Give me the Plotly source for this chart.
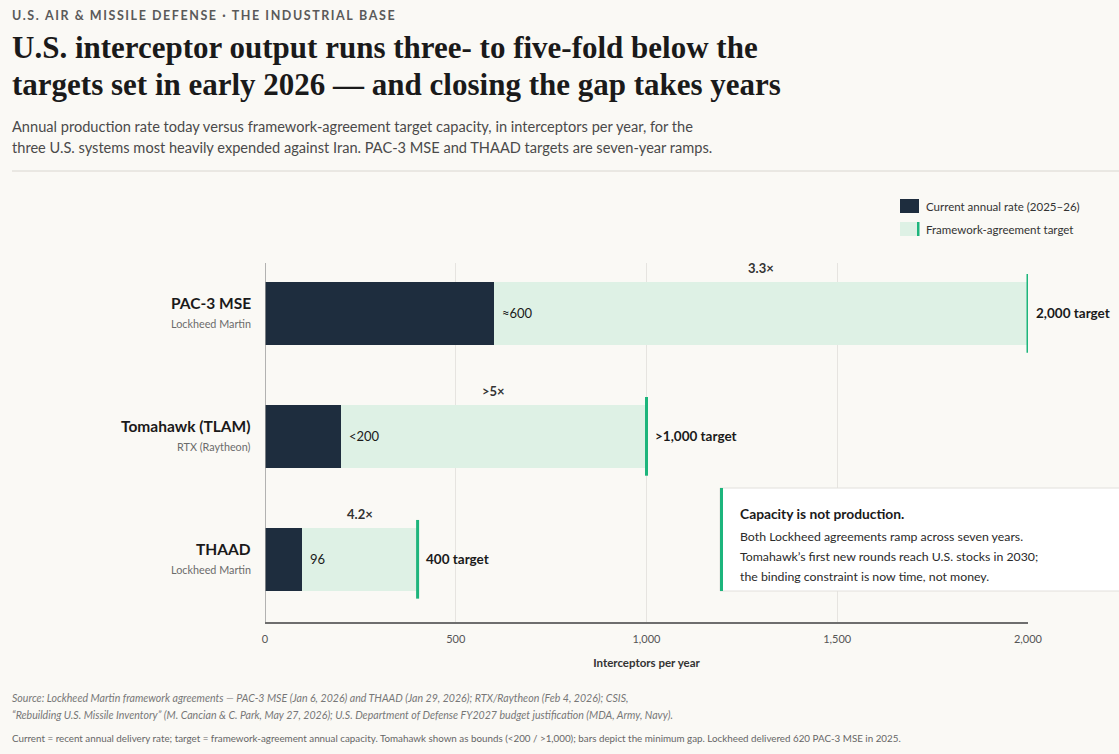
# interceptor output vs framework-agreement targets
import plotly.graph_objects as go

# data
systems = ["PAC-3 MSE", "Tomahawk (TLAM)", "THAAD"]
makers = ["Lockheed Martin", "RTX (Raytheon)", "Lockheed Martin"]
current_rate = [600, 200, 96]
target_rate = [2000, 1000, 400]
current_labels = ["≈600", "<200", "96"]
target_labels = ["2,000 target", ">1,000 target", "400 target"]
gap_labels = ["3.3×", ">5×", "4.2×"]
tick_vals = [0, 500, 1000, 1500, 2000]
tick_text = ["0", "500", "1,000", "1,500", "2,000"]

# colours / fonts
BG = "#faf9f5"
NAVY = "#1e2d3e"
MINT = "#def1e5"
GREEN = "#1db57c"
INK = "#1a1a1a"
GREY = "#6b6b6b"
SANS = "Lato, 'Open Sans', sans-serif"
SERIF = "'Liberation Serif', 'DejaVu Serif', serif"

W, H = 1119, 754
L, R, T, B = 265, 1028, 263, 622  # plot area in pixels


def px(x):
    return (x - L) / (R - L)


def py(y):
    return (B - y) / (B - T)


def text_at(x, y, text, size, color, family=SANS, anchor="left"):
    # annotations pad ~2px, so pull left-anchored text back a touch
    return dict(x=px(x - 2), y=py(y), xref="paper", yref="paper", text=text,
                xanchor=anchor, yanchor="middle", showarrow=False,
                font=dict(family=family, size=size, color=color))


ys = list(range(len(systems)))

fig = go.Figure()

# target capacity bars (full length, light)
fig.add_trace(go.Bar(
    y=ys, x=target_rate, orientation="h", width=0.515,
    marker=dict(color=MINT, line=dict(width=0)),
    hoverinfo="skip", showlegend=False,
))

# current annual rate bars
fig.add_trace(go.Bar(
    y=ys, x=current_rate, orientation="h", width=0.515,
    marker=dict(color=NAVY, line=dict(width=0)),
    hoverinfo="skip", showlegend=False,
))

# green target markers
lx, ly = [], []
for i, t in enumerate(target_rate):
    lx += [t, t, None]
    ly += [i - 0.32, i + 0.32, None]
fig.add_trace(go.Scatter(
    x=lx, y=ly, mode="lines", line=dict(color=GREEN, width=3),
    hoverinfo="skip", showlegend=False,
))

ann = []
for i in ys:
    # value after the current bar
    ann.append(dict(x=current_rate[i], y=i, xref="x", yref="y", text=current_labels[i],
                    xanchor="left", yanchor="middle", xshift=6, showarrow=False,
                    font=dict(family=SANS, size=13, color=INK)))
    # target label
    ann.append(dict(x=target_rate[i], y=i, xref="x", yref="y", text="<b>" + target_labels[i] + "</b>",
                    xanchor="left", yanchor="middle", xshift=6, showarrow=False,
                    font=dict(family=SANS, size=13.5, color=INK)))
    # multiplier above the gap
    ann.append(dict(x=(current_rate[i] + target_rate[i]) / 2, y=i, xref="x", yref="y",
                    text="<b>" + gap_labels[i] + "</b>", xanchor="center", yanchor="middle",
                    yshift=45, showarrow=False,
                    font=dict(family=SANS, size=13, color="#333333")))
    # category labels
    ann.append(dict(x=0, y=i, xref="paper", yref="y", text="<b>" + systems[i] + "</b>",
                    xanchor="right", yanchor="middle", xshift=-12, yshift=10, showarrow=False,
                    font=dict(family=SANS, size=15.5, color=INK)))
    ann.append(dict(x=0, y=i, xref="paper", yref="y", text=makers[i],
                    xanchor="right", yanchor="middle", xshift=-12, yshift=-10, showarrow=False,
                    font=dict(family=SANS, size=10.8, color=GREY)))

# header
eyebrow = "\u2009".join("U.S. AIR & MISSILE DEFENSE · THE INDUSTRIAL BASE")
ann.append(text_at(12, 15, "<b>" + eyebrow + "</b>", 12.5, "#5a5a5a"))
ann.append(text_at(12, 48, "<b>U.S. interceptor output runs three- to five-fold below the</b>", 31, INK, SERIF))
ann.append(text_at(12, 84, "<b>targets set in early 2026 — and closing the gap takes years</b>", 31, INK, SERIF))
ann.append(text_at(12, 126, "Annual production rate today versus framework-agreement target capacity, in interceptors per year, for the",
                   14.6, "#4a4a4a"))
ann.append(text_at(12, 147, "three U.S. systems most heavily expended against Iran. PAC-3 MSE and THAAD targets are seven-year ramps.",
                   14.6, "#4a4a4a"))

# legend (drawn)
ann.append(text_at(926, 206, "Current annual rate (2025–26)", 11.5, "#333333"))
ann.append(text_at(926, 229, "Framework-agreement target", 11.5, "#333333"))

# callout
ann.append(text_at(740, 513, "<b>Capacity is not production.</b>", 13.8, INK))
callout_lines = ["Both Lockheed agreements ramp across seven years.",
                 "Tomahawk’s first new rounds reach U.S. stocks in 2030;",
                 "the binding constraint is now time, not money."]
for k, line in enumerate(callout_lines):
    ann.append(text_at(740, 536 + 20 * k, line, 12.3, "#2a2a2a"))

# footer
ann.append(text_at(12, 698, "<i>Source: Lockheed Martin framework agreements — PAC-3 MSE (Jan 6, 2026) and THAAD (Jan 29, 2026); RTX/Raytheon (Feb 4, 2026); CSIS,</i>",
                   10.6, "#777777"))
ann.append(text_at(12, 715, "<i>“Rebuilding U.S. Missile Inventory” (M. Cancian &amp; C. Park, May 27, 2026); U.S. Department of Defense FY2027 budget justification (MDA, Army, Navy).</i>",
                   10.6, "#777777"))
ann.append(text_at(12, 738, "Current = recent annual delivery rate; target = framework-agreement annual capacity. Tomahawk shown as bounds (<200 / >1,000); bars depict the minimum gap. Lockheed delivered 620 PAC-3 MSE in 2025.",
                   9.8, "#666666"))

shapes = [
    # header rule
    dict(type="line", xref="paper", yref="paper", x0=px(12), x1=px(1119), y0=py(171), y1=py(171),
         line=dict(color="#d9d6d0", width=1)),
    # legend swatches
    dict(type="rect", xref="paper", yref="paper", x0=px(900), x1=px(919), y0=py(199), y1=py(213),
         fillcolor=NAVY, line=dict(width=0)),
    dict(type="rect", xref="paper", yref="paper", x0=px(900), x1=px(919), y0=py(222), y1=py(236),
         fillcolor=MINT, line=dict(width=0)),
    dict(type="rect", xref="paper", yref="paper", x0=px(917), x1=px(919.5), y0=py(222), y1=py(236),
         fillcolor=GREEN, line=dict(width=0)),
    # callout box
    dict(type="rect", xref="paper", yref="paper", x0=px(720), x1=px(1125), y0=py(488), y1=py(591),
         fillcolor="white", line=dict(color="#e2e0dc", width=1)),
    dict(type="rect", xref="paper", yref="paper", x0=px(720), x1=px(723), y0=py(488), y1=py(591),
         fillcolor=GREEN, line=dict(width=0)),
]

fig.update_layout(
    width=W, height=H,
    margin=dict(l=L, r=W - R, t=T, b=H - B),
    paper_bgcolor=BG, plot_bgcolor=BG,
    barmode="overlay", bargap=0,
    showlegend=False,
    annotations=ann, shapes=shapes,
    xaxis=dict(range=[0, 2000], tickvals=tick_vals, ticktext=tick_text,
               showgrid=True, gridcolor="#e6e4e0", gridwidth=1, zeroline=False,
               showline=True, linecolor="#6e6e6e", linewidth=1.5, ticks="",
               ticklabelstandoff=6,
               tickfont=dict(family=SANS, size=11, color="#555555"),
               title=dict(text="<b>Interceptors per year</b>", standoff=15,
                          font=dict(family=SANS, size=11.5, color="#333333"))),
    yaxis=dict(range=[2.51, -0.41], showticklabels=False, showgrid=False, zeroline=False,
               showline=False, ticks=""),
)

# left axis rule
fig.add_shape(type="line", xref="x", yref="paper", x0=0, x1=0, y0=0, y1=1,
              line=dict(color="#9a9a9a", width=1.5), layer="above")

# drop the page margin so the figure sits flush in the window
fig.write_html("out.html", config={"displayModeBar": False},
               post_script="document.body.style.margin='0';document.body.style.background='%s';" % BG)
